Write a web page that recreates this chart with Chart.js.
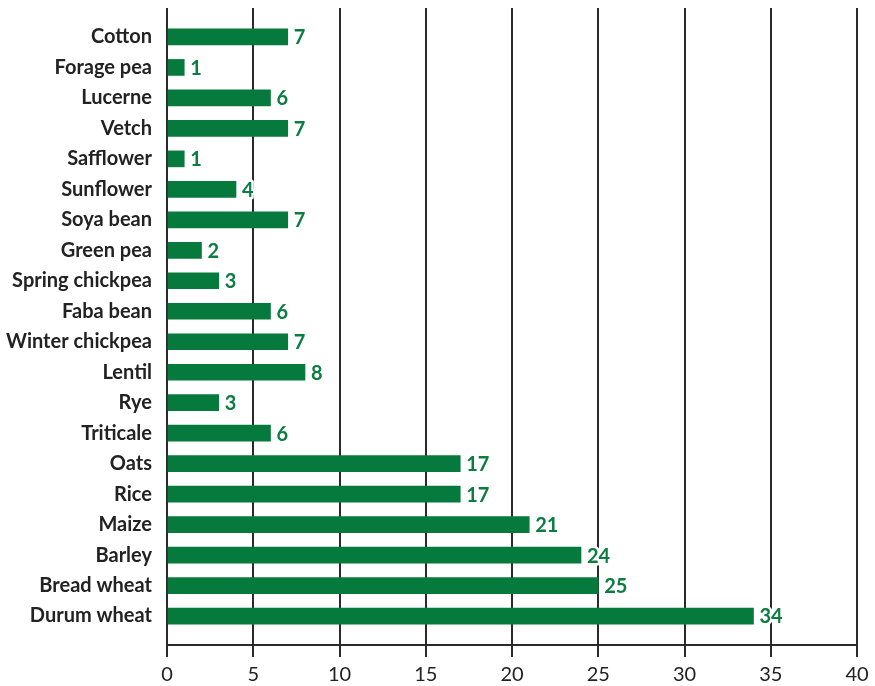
<!DOCTYPE html>
<html>
<head>
<meta charset="utf-8">
<script src="https://cdn.jsdelivr.net/npm/chart.js@4"></script>
<style>
  html, body { margin: 0; padding: 0; background: #fff; }
  #wrap { width: 875px; height: 686px; }
</style>
</head>
<body>
<div id="wrap"><canvas id="cropChart"></canvas></div>
<script>
// crops listed top to bottom as drawn
const crops = ['Cotton', 'Forage pea', 'Lucerne', 'Vetch', 'Safflower', 'Sunflower',
  'Soya bean', 'Green pea', 'Spring chickpea', 'Faba bean', 'Winter chickpea', 'Lentil',
  'Rye', 'Triticale', 'Oats', 'Rice', 'Maize', 'Barley', 'Bread wheat', 'Durum wheat'];
const counts = [7, 1, 6, 7, 1, 4, 7, 2, 3, 6, 7, 8, 3, 6, 17, 17, 21, 24, 25, 34];
const xTicks = [0, 5, 10, 15, 20, 25, 30, 35, 40];

const green = '#067a3d';
const ink = '#2a2a2a';

// draws the number after each bar, with a white halo over the grid
const valueLabels = {
  id: 'valueLabels',
  afterDatasetsDraw(chart) {
    const ctx = chart.ctx;
    const meta = chart.getDatasetMeta(0);
    ctx.save();
    ctx.font = 'bold 20px Lato';
    ctx.textAlign = 'left';
    ctx.textBaseline = 'middle';
    ctx.lineJoin = 'round';
    ctx.lineWidth = 5;
    ctx.strokeStyle = '#fff';
    ctx.fillStyle = '#0b7d41';
    meta.data.forEach((bar, i) => {
      ctx.strokeText(counts[i], bar.x + 6, bar.y + 1);
      ctx.fillText(counts[i], bar.x + 6, bar.y + 1);
    });
    ctx.restore();
  }
};

new Chart(document.getElementById('cropChart'), {
  type: 'bar',
  data: {
    datasets: [{
      data: counts.map((v, i) => ({ x: v, y: i })),
      backgroundColor: green,
      barThickness: 16
    }]
  },
  options: {
    indexAxis: 'y',
    responsive: true,
    maintainAspectRatio: false,
    animation: false,
    layout: { padding: { top: 8, right: 18, left: 6, bottom: 0 } },
    plugins: {
      legend: { display: false },
      tooltip: { enabled: false }
    },
    scales: {
      x: {
        type: 'linear',
        min: 0,
        max: 40,
        afterBuildTicks: axis => { axis.ticks = xTicks.map(v => ({ value: v })); },
        afterFit: s => { s.height = 41; },
        grid: { color: ink, lineWidth: 2, tickLength: 12, drawTicks: true },
        border: { display: true, color: ink, width: 2 },
        ticks: {
          color: '#222',
          padding: 6,
          font: { family: 'Lato', size: 20 }
        }
      },
      y: {
        type: 'linear',
        min: -0.95,
        max: 19.95,
        reverse: true,
        offset: false,
        grid: { display: false, drawTicks: false, tickLength: 0 },
        border: { display: false },
        afterFit: s => { s.paddingTop = 0; s.paddingBottom = 0; s.width = 161; },
        ticks: {
          stepSize: 1,
          autoSkip: false,
          maxTicksLimit: 30,
          padding: 15,
          color: '#222',
          font: { family: 'Lato', size: 20, weight: 'bold' },
          callback: v => crops[v] ?? ''
        }
      }
    }
  },
  plugins: [valueLabels]
});
</script>
</body>
</html>
